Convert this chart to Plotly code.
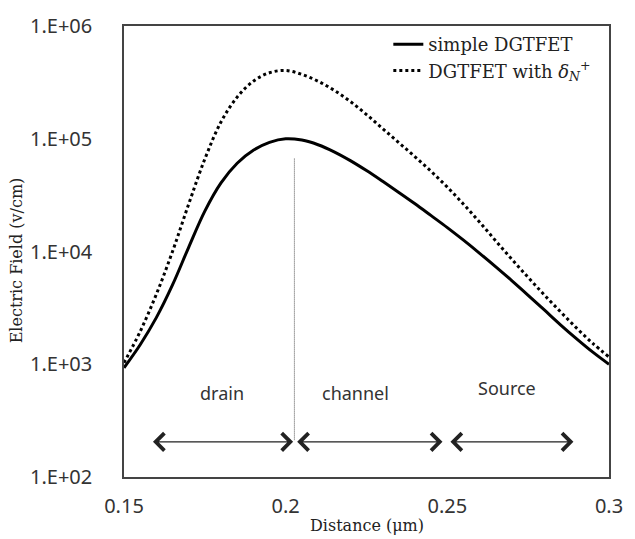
import numpy as np
import plotly.graph_objects as go

# ---- data ----
distance = [0.150, 0.155, 0.160, 0.165, 0.170, 0.175, 0.180, 0.185, 0.190, 0.195,
            0.200, 0.205, 0.210, 0.215, 0.220, 0.225, 0.230, 0.235, 0.240, 0.245,
            0.250, 0.255, 0.260, 0.265, 0.270, 0.275, 0.280, 0.285, 0.290, 0.295, 0.300]
field_simple = [930, 1490, 2590, 5050, 10900, 22800, 40600, 60700, 79100, 92900,
                100000, 97300, 88500, 76600, 64000, 52200, 41900, 33400, 26500, 20800,
                16300, 12600, 9640, 7310, 5490, 4090, 3030, 2240, 1680, 1280, 1000]
field_delta = [1030, 1950, 4170, 10000, 26300, 66100, 141000, 234000, 324000, 385000,
               403000, 372000, 324000, 269000, 214000, 164000, 123000, 92300, 69200, 51300,
               37200, 26300, 18200, 12400, 8510, 5890, 4120, 2920, 2090, 1530, 1160]

series_names = ["simple DGTFET", "DGTFET with <i>δ</i><sub><i>N</i></sub><sup>+</sup>"]

x_ticks = [0.15, 0.2, 0.25, 0.3]
x_tick_labels = ["0.15", "0.2", "0.25", "0.3"]
y_ticks = [1e2, 1e3, 1e4, 1e5, 1e6]
y_tick_labels = ["1.E+02", "1.E+03", "1.E+04", "1.E+05", "1.E+06"]

# junction marker (vertical dotted line)
junction_x = 0.2027
junction_y = [66700, 210]

# regions: names, arrow start/end, label positions
region_names = ["drain", "channel", "Source"]
region_start = [0.1585, 0.2031, 0.2505]
region_end = [0.2023, 0.2485, 0.2890]
region_label_x = [0.1802, 0.2215, 0.2686]
region_label_y = [560, 560, 620]
arrow_level = 205

fig = go.Figure()
fig.add_trace(go.Scatter(x=distance, y=field_simple, mode="lines", name=series_names[0],
                         line=dict(color="black", width=3, shape="spline", smoothing=1)))
fig.add_trace(go.Scatter(x=distance, y=field_delta, mode="lines", name=series_names[1],
                         line=dict(color="black", width=3, dash="3px,3px", shape="spline", smoothing=1)))
fig.add_trace(go.Scatter(x=[junction_x, junction_x], y=junction_y, mode="lines", showlegend=False,
                         line=dict(color="#555555", width=1, dash="1px,1px")))

annotations = []
for name, s, e, lx, ly in zip(region_names, region_start, region_end, region_label_x, region_label_y):
    annotations.append(dict(x=e, y=np.log10(arrow_level), ax=s, ay=np.log10(arrow_level),
                            xref="x", yref="y", axref="x", ayref="y", text="",
                            showarrow=True, arrowhead=4, startarrowhead=4, arrowside="end+start",
                            arrowsize=2.8, startarrowsize=2.8, arrowwidth=1.2, arrowcolor="#222222",
                            standoff=0, startstandoff=0))
    annotations.append(dict(x=lx, y=np.log10(ly), xref="x", yref="y", text=name,
                            showarrow=False, font=dict(family="Noto Sans", size=18, color="#333333")))

annotations.append(dict(x=0.5, y=0, xref="paper", yref="paper", yshift=-48, yanchor="middle",
                        text="Distance (μm)", showarrow=False,
                        font=dict(family="DejaVu Serif", size=16, color="#222222")))
annotations.append(dict(x=0, y=(477 - 256) / 460, xref="paper", yref="paper", xshift=-108,
                        xanchor="center", yanchor="middle", textangle=-90,
                        text="Electric Field (v/cm)", showarrow=False,
                        font=dict(family="DejaVu Serif", size=16, color="#222222")))

fig.update_layout(
    width=635, height=539,
    margin=dict(l=124, r=19, t=17, b=62),
    paper_bgcolor="white", plot_bgcolor="white",
    showlegend=True,
    legend=dict(x=0.545, y=1.0, xanchor="left", yanchor="top", bgcolor="rgba(0,0,0,0)",
                font=dict(family="DejaVu Serif", size=18, color="#222222"),
                tracegroupgap=0),
    annotations=annotations,
)
fig.update_xaxes(range=[0.15, 0.3], tickvals=x_ticks, ticktext=x_tick_labels,
                 showgrid=False, zeroline=False, ticks="", ticklabelstandoff=10,
                 showline=True, linecolor="#444444", linewidth=1.5, mirror=True,
                 tickfont=dict(family="Noto Sans", size=20, color="#333333"))
fig.update_yaxes(type="log", range=[2, 6], tickvals=y_ticks, ticktext=y_tick_labels,
                 showgrid=False, zeroline=False, ticks="", ticklabelstandoff=26,
                 showline=True, linecolor="#444444", linewidth=1.5, mirror=True,
                 tickfont=dict(family="Noto Sans", size=20, color="#333333"))

fig.write_html("out.html")
